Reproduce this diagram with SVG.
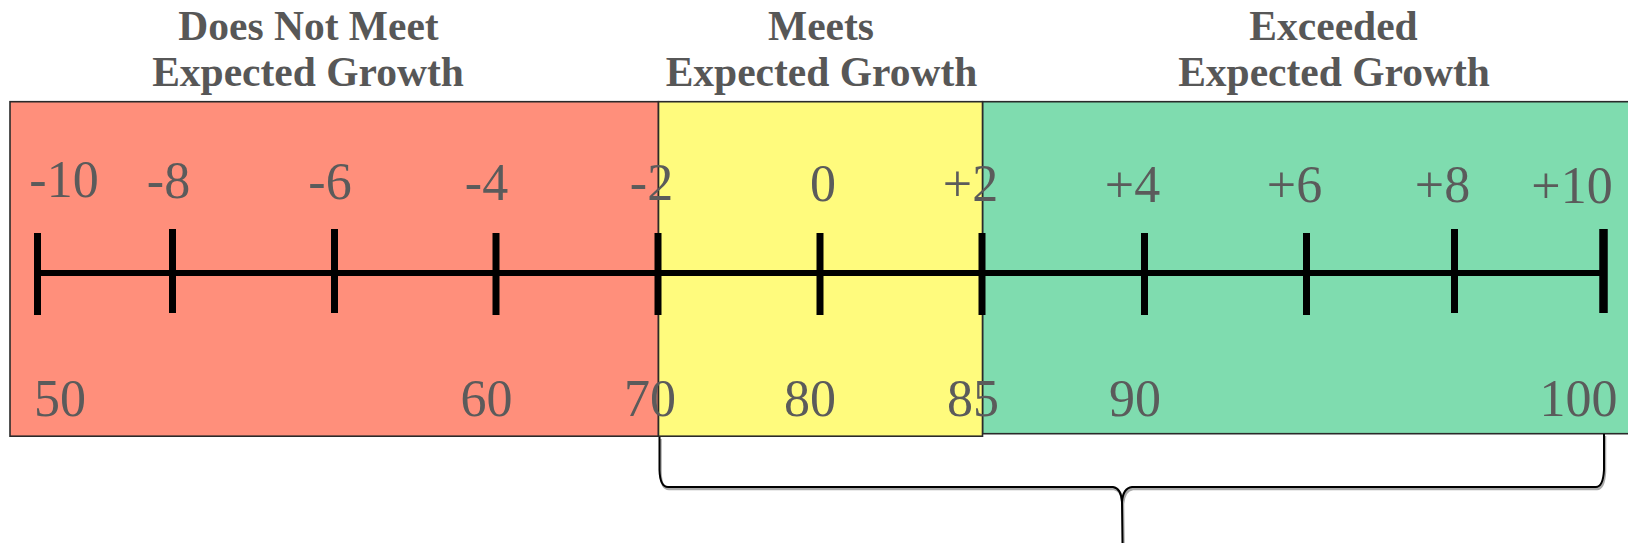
<svg xmlns="http://www.w3.org/2000/svg" width="1628" height="543" viewBox="0 0 1628 543">
<style>
.hdr{font-family:"Liberation Serif","Times New Roman",serif;font-weight:bold;font-size:41.5px;fill:#575757;text-anchor:middle}
.num{font-family:"Liberation Serif","Times New Roman",serif;font-size:52px;fill:#5b5b5b;text-anchor:middle}
.zone{stroke:#2a2a2a;stroke-width:1.6}
.tick{stroke:#000;stroke-width:7}
.axis{stroke:#000;stroke-width:6;fill:none}
.brace{fill:none;stroke:#000;stroke-width:2}
.brace-sh{fill:none;stroke:#aaa;stroke-width:2.5}
</style>
<rect width="1628" height="543" fill="#fff"/>
<g id="zone-does-not-meet">
<rect class="zone" x="10" y="101.7" width="648.5" height="334.5" fill="#FF8F7B"/>
<text class="hdr" x="308.5" y="40">Does Not Meet</text>
<text class="hdr" x="308" y="86">Expected Growth</text>
</g>
<g id="zone-exceeded">
<rect class="zone" x="982.5" y="101.7" width="660" height="332" fill="#7FDCAF"/>
<text class="hdr" x="1333.5" y="40">Exceeded</text>
<text class="hdr" x="1334" y="86">Expected Growth</text>
</g>
<g id="zone-meets">
<rect class="zone" x="658.5" y="101.7" width="324" height="334.5" fill="#FFFB7D"/>
<text class="hdr" x="821" y="40">Meets</text>
<text class="hdr" x="821.5" y="86">Expected Growth</text>
</g>
<g id="number-line">
<line class="axis" x1="37" y1="273" x2="1604" y2="273"/>
<line class="tick" x1="37.5" y1="233" x2="37.5" y2="315"/>
<line class="tick" x1="172.5" y1="229" x2="172.5" y2="313"/>
<line class="tick" x1="334.5" y1="229" x2="334.5" y2="313"/>
<line class="tick" x1="496" y1="233" x2="496" y2="315"/>
<line class="tick" x1="658" y1="233" x2="658" y2="315"/>
<line class="tick" x1="820" y1="233" x2="820" y2="315"/>
<line class="tick" x1="982" y1="233" x2="982" y2="315"/>
<line class="tick" x1="1144.5" y1="233" x2="1144.5" y2="315"/>
<line class="tick" x1="1306.5" y1="233" x2="1306.5" y2="315"/>
<line class="tick" x1="1454.5" y1="229" x2="1454.5" y2="313"/>
<line class="tick" x1="1603.5" y1="229" x2="1603.5" y2="313" style="stroke-width:8.5"/>
</g>
<g id="scale-labels">
<text class="num" x="64" y="197">-10</text>
<text class="num" x="168.5" y="198">-8</text>
<text class="num" x="330" y="199">-6</text>
<text class="num" x="486.5" y="199.5">-4</text>
<text class="num" x="651.5" y="200">-2</text>
<text class="num" x="823" y="201">0</text>
<text class="num" x="970.5" y="201">+2</text>
<text class="num" x="1132.5" y="201.5">+4</text>
<text class="num" x="1294.5" y="201.5">+6</text>
<text class="num" x="1442.5" y="202">+8</text>
<text class="num" x="1572" y="203">+10</text>
</g>
<g id="score-labels">
<text class="num" x="60" y="416">50</text>
<text class="num" x="486.5" y="416">60</text>
<text class="num" x="650" y="416">70</text>
<text class="num" x="810" y="416">80</text>
<text class="num" x="973" y="416">85</text>
<text class="num" x="1135" y="416">90</text>
<text class="num" x="1578.5" y="416">100</text>
</g>
<g id="connectors">
<path class="brace-sh" transform="translate(1,2)" d="M659.5 437 L659.5 470 Q660 487 668 487 L1113 487 Q1121 488 1122 502 L1122.5 543 M1604 434 L1604 470 Q1603 487 1596 487 L1132 487 Q1123 488 1122 502"/>
<path class="brace" d="M659.5 437 L659.5 470 Q660 487 668 487 L1113 487 Q1121 488 1122 502 L1122.5 543 M1604 434 L1604 470 Q1603 487 1596 487 L1132 487 Q1123 488 1122 502"/>
</g>
</svg>
